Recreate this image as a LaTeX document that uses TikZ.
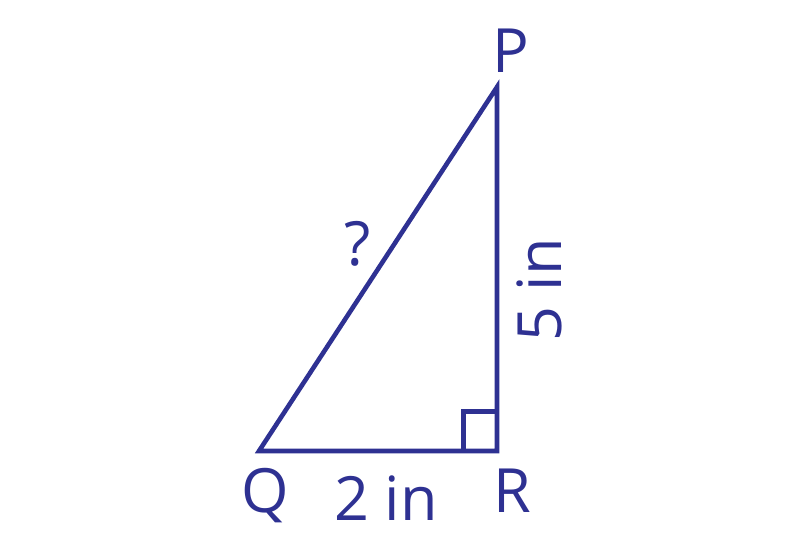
\documentclass[tikz,border=0pt]{standalone}
\usepackage{fontspec}
\setmainfont{Open Sans}
\definecolor{tri}{RGB}{46,49,146}
\begin{document}
\begin{tikzpicture}[x=1pt,y=-1pt,
  edge/.style={draw=tri,line width=4.6pt,line join=miter},
  lbl/.style={text=tri,inner sep=0pt,font=\fontsize{61}{61}\selectfont,anchor=base}]
\useasboundingbox (0,0) rectangle (800,558);
\coordinate (Q) at (259,451);
\coordinate (R) at (497,451);
\coordinate (P) at (497,87);
\coordinate (S1) at (463.5,451);
\coordinate (S2) at (463.5,411.5);
\coordinate (S3) at (497,411.5);
\draw[edge] (Q) -- (R) -- (P) -- cycle;
\draw[edge] (S1) -- (S2) -- (S3);
\node[lbl] (lP) at (511,72) {P};
\node[lbl] (lQ) at (265,512) {Q};
\node[lbl] (lR) at (512,512) {R};
\node[lbl] (l2) at (386,520) {2 in};
\node[lbl,rotate=90] (l5) at (561,290) {5 in};
\node[lbl] (lq) at (358,265) {?};
\end{tikzpicture}
\end{document}
